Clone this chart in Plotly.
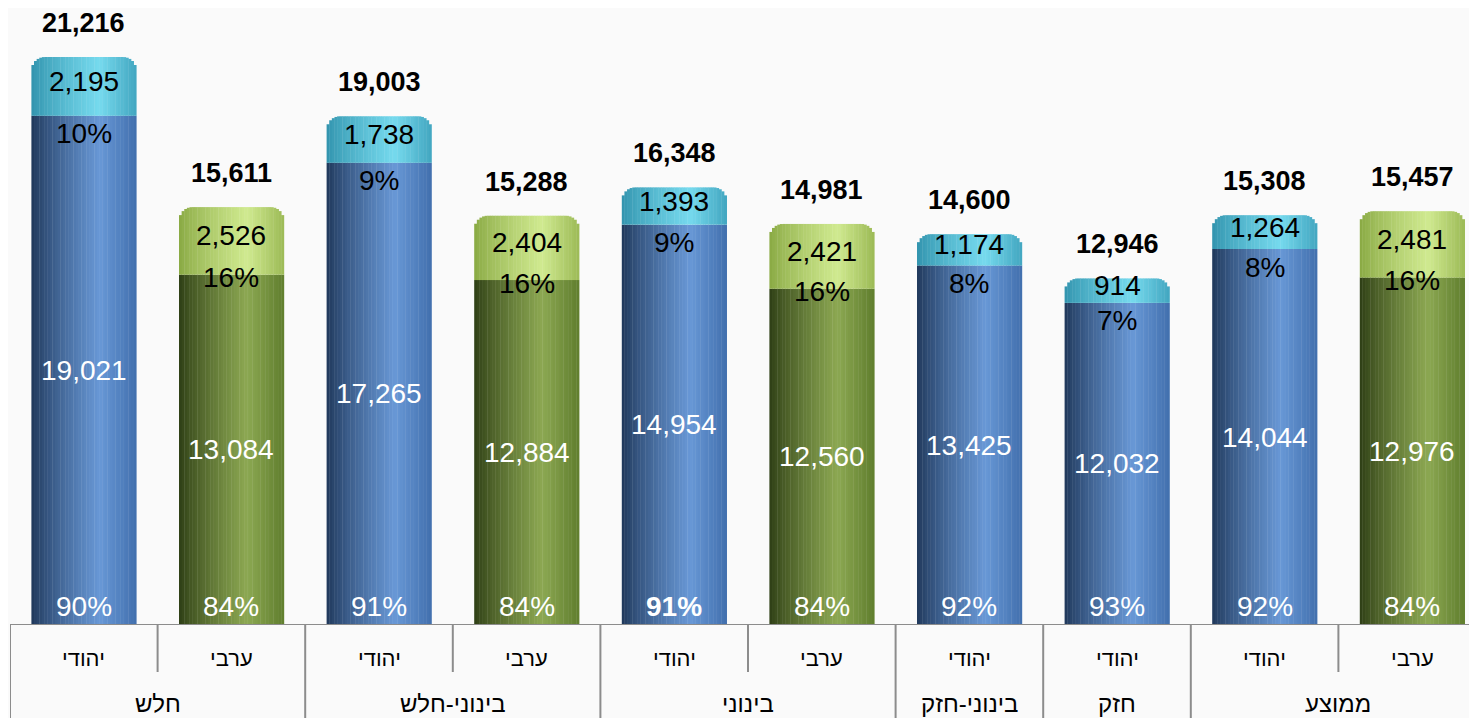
import math
import plotly.graph_objects as go

# data
groups = ["חלש", "בינוני-חלש", "בינוני", "בינוני-חזק", "חזק", "ממוצע"]
group_size = [2, 2, 2, 1, 1, 2]
sectors = ["יהודי", "ערבי", "יהודי", "ערבי", "יהודי", "ערבי", "יהודי", "יהודי", "יהודי", "ערבי"]
base_vals = [19021, 13084, 17265, 12884, 14954, 12560, 13425, 12032, 14044, 12976]
top_vals = [2195, 2526, 1738, 2404, 1393, 2421, 1174, 914, 1264, 2481]
totals = [21216, 15611, 19003, 15288, 16348, 14981, 14600, 12946, 15308, 15457]
base_pct = ["90%", "84%", "91%", "84%", "91%", "84%", "92%", "93%", "92%", "84%"]
top_pct = ["10%", "16%", "9%", "16%", "9%", "16%", "8%", "7%", "8%", "16%"]

xs = list(range(len(sectors)))
# page body has an 8px margin, so the figure is drawn a bit smaller
FIG_W, FIG_H = 1469, 710
PLOT_H = 617
MB = FIG_H - PLOT_H
YMAX = 23047
SLOT_PX = 147.6
BW = 0.71
N = 40
R_PX = 13
FONT = "Liberation Sans, Arial, sans-serif"

# cylinder shading: left / highlight / right
pal = {
    "יהודי": {"bot": [(30, 54, 88), (104, 152, 214), (66, 112, 174)],
              "top": [(48, 146, 172), (118, 218, 238), (66, 166, 192)]},
    "ערבי": {"bot": [(44, 60, 20), (140, 168, 82), (96, 126, 46)],
             "top": [(136, 168, 66), (208, 234, 144), (156, 186, 86)]},
}


def shade(c, t):
    left, light, right = c
    if t < 0.65:
        f = (t / 0.65) ** 0.8
        a, b = left, light
    else:
        f = (t - 0.65) / 0.35
        a, b = light, right
    return "rgb(%d,%d,%d)" % tuple(round(a[j] + (b[j] - a[j]) * f) for j in range(3))


px_per_unit = PLOT_H / YMAX

fig = go.Figure()
sw = BW / N
for k in range(N):
    t = (k + 0.5) / N
    off = -BW / 2 + k * sw
    d = min(k, N - 1 - k) * sw * SLOT_PX + 1
    drop = 0
    if d < R_PX:
        drop = (R_PX - math.sqrt(R_PX ** 2 - (R_PX - d) ** 2)) / px_per_unit
    fig.add_trace(go.Bar(
        x=xs, y=base_vals, base=0, offset=off, width=sw * 1.15,
        marker=dict(color=[shade(pal[s]["bot"], t) for s in sectors], line_width=0),
        hoverinfo="skip"))
    fig.add_trace(go.Bar(
        x=xs, y=[v - drop for v in top_vals], base=base_vals, offset=off, width=sw * 1.15,
        marker=dict(color=[shade(pal[s]["top"], t) for s in sectors], line_width=0),
        hoverinfo="skip"))

ann = []
for i in xs:
    ann.append(dict(x=i, y=totals[i], text="<b>{:,}</b>".format(totals[i]), yanchor="bottom",
                    yshift=17, showarrow=False, font=dict(size=27, color="black")))
    ann.append(dict(x=i, y=base_vals[i] + top_vals[i] / 2, text="{:,}".format(top_vals[i]),
                    yshift=5, showarrow=False, font=dict(size=28, color="black")))
    ann.append(dict(x=i, y=base_vals[i], text=top_pct[i], yanchor="middle",
                    yshift=-3 if sectors[i] == "ערבי" else -18,
                    showarrow=False, font=dict(size=28, color="black")))
    ann.append(dict(x=i, y=base_vals[i] / 2, text="{:,}".format(base_vals[i]),
                    showarrow=False, font=dict(size=28, color="white")))
    pct = "<b>%s</b>" % base_pct[i] if i == 4 else base_pct[i]
    ann.append(dict(x=i, y=0, text=pct, yanchor="bottom", yshift=1,
                    showarrow=False, font=dict(size=28, color="white")))
    ann.append(dict(x=i, xref="x", y=-33 / PLOT_H, yref="paper", yanchor="middle",
                    text=sectors[i], showarrow=False, font=dict(size=22, color="black")))

shapes = [dict(type="line", xref="paper", x0=0, x1=1, yref="y", y0=0, y1=0,
               line=dict(color="#8c8c8c", width=2))]
starts = []
pos = 0
for g, n in zip(groups, group_size):
    starts.append(pos)
    ann.append(dict(x=pos + (n - 1) / 2, xref="x", y=-78 / PLOT_H, yref="paper",
                    yanchor="middle", text=g, showarrow=False,
                    font=dict(size=24, color="black")))
    pos += n
for i in xs:
    y1 = -MB / PLOT_H if i in starts else -47 / PLOT_H
    shapes.append(dict(type="line", xref="x", x0=i - 0.5, x1=i - 0.5, yref="paper",
                       y0=0, y1=y1, line=dict(color="#8c8c8c", width=2)))

fig.update_layout(
    width=FIG_W, height=FIG_H,
    margin=dict(l=2, r=0, t=0, b=MB),
    barmode="overlay", showlegend=False,
    paper_bgcolor="#fafafa", plot_bgcolor="#fafafa",
    font=dict(family=FONT),
    xaxis=dict(range=[-0.5, -0.5 + (FIG_W - 2) / SLOT_PX], visible=False, fixedrange=True),
    yaxis=dict(range=[0, YMAX], visible=False, fixedrange=True),
    annotations=ann, shapes=shapes,
)

fig.write_html("out.html")
